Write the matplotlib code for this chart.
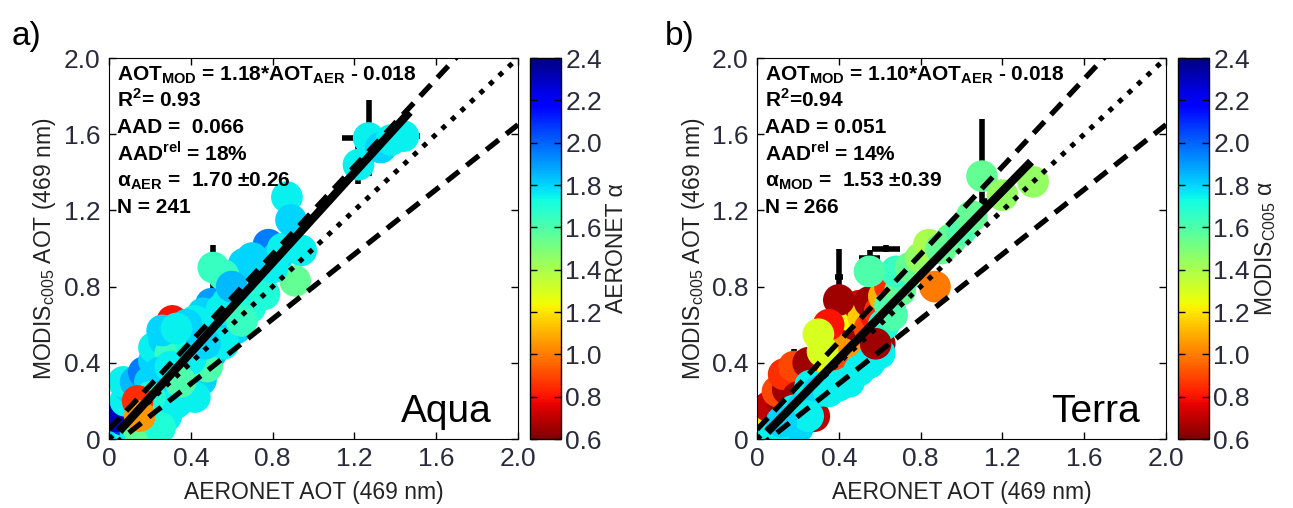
import numpy as np
import matplotlib.pyplot as plt
from matplotlib import cm, colors

plt.rcParams['font.family'] = ['Liberation Sans', 'DejaVu Sans']
plt.rcParams['mathtext.fontset'] = 'custom'
plt.rcParams['mathtext.rm'] = 'Liberation Sans'
plt.rcParams['mathtext.bf'] = 'Liberation Sans:bold'

# ---- Aqua (panel a): AERONET AOT, MODIS AOT, AERONET alpha
aqua_x = [0.03, 0.05, 0.06, 0.08, 0.04, 0.10, 0.07, 0.12, 0.13, 0.09, 0.03, 0.16, 0.18, 0.20,
          0.16, 0.11, 0.08, 0.10, 0.07, 0.13, 0.17, 0.20, 0.22, 0.25, 0.28, 0.26,
          0.31, 0.33, 0.37, 0.40, 0.45, 0.42, 0.31, 0.22, 0.22, 0.27, 0.30, 0.34, 0.36, 0.35,
          0.40, 0.44, 0.50, 0.48, 0.52, 0.55, 0.50, 0.46, 0.42, 0.38, 0.58, 0.63, 0.60, 0.66,
          0.69, 0.72, 0.68, 0.66, 0.56, 0.51, 0.62, 0.56, 0.75, 0.78, 0.82, 0.85, 0.94, 0.91,
          0.87, 0.89, 0.76, 0.80, 0.25, 0.30, 0.20, 0.40, 0.47, 0.55, 0.60, 0.70, 0.35, 0.15,
          0.25, 0.65, 0.26, 0.33, 1.22, 1.27, 1.33, 1.38, 1.44, 0.14, 0.15]
aqua_y = [0.02, 0.03, 0.06, 0.04, 0.08, 0.05, 0.10, 0.08, 0.03, 0.14, 0.12, 0.06, 0.10, 0.05,
          0.16, 0.22, 0.20, 0.27, 0.30, 0.30, 0.35, 0.30, 0.20, 0.14, 0.12, 0.25,
          0.27, 0.19, 0.25, 0.30, 0.31, 0.22, 0.62, 0.41, 0.48, 0.52, 0.45, 0.36, 0.54, 0.46,
          0.50, 0.56, 0.45, 0.38, 0.52, 0.60, 0.71, 0.66, 0.62, 0.60, 0.72, 0.78, 0.66, 0.72,
          0.69, 0.80, 0.85, 0.92, 0.86, 0.90, 0.58, 0.50, 0.86, 1.02, 0.95, 1.00, 0.99, 0.83,
          1.27, 1.15, 0.76, 0.90, 0.35, 0.38, 0.22, 0.42, 0.50, 0.68, 0.80, 0.95, 0.30, 0.04,
          0.06, 0.62, 0.57, 0.58, 1.44, 1.58, 1.53, 1.57, 1.59, 0.20, 0.12]
aqua_a = [1.70, 1.60, 1.75, 1.55, 1.80, 1.70, 2.10, 1.60, 1.75, 1.80, 2.30, 1.80, 1.70, 1.75,
          0.95, 0.90, 1.75, 1.80, 1.75, 1.85, 1.95, 1.80, 1.75, 1.70, 1.75, 1.45,
          1.80, 1.75, 1.75, 1.70, 1.80, 1.75, 0.80, 1.80, 1.75, 1.80, 1.65, 1.60, 1.80, 1.65,
          1.70, 1.85, 1.85, 1.60, 1.75, 1.70, 1.90, 1.80, 1.75, 1.80, 1.75, 1.80, 1.70, 1.75,
          1.70, 1.75, 1.65, 1.80, 1.65, 1.65, 1.80, 1.75, 1.80, 1.95, 1.80, 1.75, 1.75, 1.55,
          1.75, 1.80, 1.70, 1.75, 1.80, 1.75, 1.70, 1.75, 1.80, 1.75, 1.85, 1.80, 1.60, 1.55,
          1.70, 1.65, 1.80, 1.75, 1.75, 1.75, 1.80, 1.75, 1.75, 0.85, 1.05]
# error bars (centre x, centre y, x half-width, y half-width)
aqua_ex = [1.27, 1.22, 1.44, 0.51, 0.36, 0.30, 0.45, 0.78, 0.66, 0.42, 0.89]
aqua_ey = [1.58, 1.44, 1.59, 0.90, 0.54, 0.60, 0.31, 1.02, 0.92, 0.62, 1.15]
aqua_exerr = [0.13, 0.06, 0.08, 0.04, 0.03, 0.03, 0.06, 0.03, 0.03, 0.03, 0.02]
aqua_eyerr = [0.20, 0.10, 0.04, 0.12, 0.10, 0.06, 0.13, 0.06, 0.05, 0.05, 0.04]

# ---- Terra (panel b): AERONET AOT, MODIS AOT, MODIS alpha
terra_x = [0.03, 0.05, 0.08, 0.04, 0.10, 0.12, 0.07, 0.09, 0.06, 0.14, 0.17, 0.20, 0.12, 0.10,
           0.15, 0.13, 0.18, 0.20, 0.25, 0.30, 0.25, 0.34, 0.28, 0.36, 0.38, 0.42, 0.35, 0.40,
           0.45, 0.48, 0.45, 0.50, 0.52, 0.55, 0.58, 0.55, 0.60, 0.60, 0.62, 0.65, 0.40, 0.35,
           0.30, 0.32, 0.65, 0.70, 0.72, 0.68, 0.78, 0.62, 0.66, 0.55, 0.75, 0.80, 0.84, 0.90,
           0.87, 0.95, 1.00, 1.05, 1.10, 1.20, 1.35, 0.18, 0.22, 0.26, 0.30, 0.35, 0.40, 0.45,
           0.50, 0.55, 0.60, 0.15, 0.20, 0.25, 0.08, 0.12, 0.58]
terra_y = [0.02, 0.05, 0.03, 0.09, 0.07, 0.04, 0.12, 0.15, 0.17, 0.10, 0.06, 0.10, 0.20, 0.25,
           0.26, 0.34, 0.38, 0.22, 0.40, 0.42, 0.20, 0.38, 0.12, 0.32, 0.44, 0.42, 0.52, 0.55,
           0.50, 0.60, 0.65, 0.70, 0.64, 0.58, 0.65, 0.72, 0.67, 0.50, 0.75, 0.80, 0.73, 0.60,
           0.55, 0.46, 0.70, 0.78, 0.85, 0.88, 0.92, 0.60, 0.65, 0.88, 0.90, 0.95, 1.02, 1.00,
           0.80, 1.05, 1.10, 1.17, 1.38, 1.28, 1.35, 0.15, 0.16, 0.28, 0.25, 0.25, 0.28, 0.30,
           0.36, 0.40, 0.45, 0.05, 0.06, 0.12, 0.02, 0.09, 0.50]
terra_a = [1.75, 1.80, 1.70, 1.75, 1.80, 1.75, 1.20, 0.90, 0.70, 1.75, 1.80, 1.75, 0.65, 0.90,
           0.65, 0.85, 0.90, 0.65, 0.65, 0.65, 1.75, 0.70, 0.70, 1.25, 0.65, 0.90, 1.15, 1.30,
           1.05, 0.65, 1.25, 0.75, 1.15, 0.90, 0.80, 0.65, 0.85, 0.65, 1.10, 0.85, 0.65, 0.80,
           1.30, 1.30, 1.60, 1.55, 1.60, 1.65, 1.60, 1.70, 1.60, 1.60, 1.55, 1.45, 1.40, 1.55,
           1.00, 1.55, 1.60, 1.55, 1.55, 1.45, 1.45, 1.75, 1.80, 1.75, 1.80, 1.75, 1.75, 1.75,
           1.75, 1.75, 1.75, 1.75, 1.80, 1.75, 1.75, 1.80, 0.65]
terra_ex = [1.10, 0.40, 0.63, 1.15, 0.18, 0.55, 0.72, 1.35]
terra_ey = [1.40, 0.85, 1.00, 1.25, 0.42, 0.95, 0.90, 1.30]
terra_exerr = [0.06, 0.02, 0.07, 0.06, 0.03, 0.05, 0.04, 0.04]
terra_eyerr = [0.28, 0.15, 0.02, 0.03, 0.05, 0.04, 0.03, 0.03]

panels = [
    dict(x=aqua_x, y=aqua_y, a=aqua_a, ex=aqua_ex, ey=aqua_ey, exerr=aqua_exerr, eyerr=aqua_eyerr,
         slope=1.18, icpt=-0.018, xend=1.47, name='Aqua', tag='a)',
         stats=[r'AOT$_{\mathbf{MOD}}$ = 1.18*AOT$_{\mathbf{AER}}$ - 0.018', r'R$^{\mathbf{2}}$= 0.93',
                'AAD =  0.066', r'AAD$^{\mathbf{rel}}$ = 18%', r'α$_{\mathbf{AER}}$ =  1.70 ±0.26', 'N = 241'],
         cblabel='AERONET α'),
    dict(x=terra_x, y=terra_y, a=terra_a, ex=terra_ex, ey=terra_ey, exerr=terra_exerr, eyerr=terra_eyerr,
         slope=1.10, icpt=-0.018, xend=1.34, name='Terra', tag='b)',
         stats=[r'AOT$_{\mathbf{MOD}}$ = 1.10*AOT$_{\mathbf{AER}}$ - 0.018', r'R$^{\mathbf{2}}$=0.94',
                'AAD = 0.051', r'AAD$^{\mathbf{rel}}$ = 14%', r'α$_{\mathbf{MOD}}$ =  1.53 ±0.39', 'N = 266'],
         cblabel=r'MODIS$_{\mathrm{C005}}$ α'),
]

fig = plt.figure(figsize=(12.93, 5.08), dpi=100)
norm = colors.Normalize(vmin=0.6, vmax=2.4)
cmap = plt.get_cmap('jet_r')
tickcol = '#2a2a3a'

lefts = [0.0843, 0.5855]
cblefts = [0.4099, 0.9111]
tagx = [-0.238, -0.225]
for p, L, CL, TX in zip(panels, lefts, cblefts, tagx):
    ax = fig.add_axes([L, 0.1358, 0.3163, 0.75])
    cax = fig.add_axes([CL, 0.1358, 0.024, 0.75])

    ax.errorbar(p['ex'], p['ey'], xerr=p['exerr'], yerr=p['eyerr'], fmt='none',
                ecolor='black', elinewidth=4, capsize=0, zorder=1)
    ax.scatter(p['x'], p['y'], c=p['a'], cmap=cmap, norm=norm, s=520,
               edgecolors='none', zorder=2)

    xx = np.array([0, 2])
    ax.plot(xx, xx, color='black', lw=3.6, dashes=(1, 1.6), zorder=3)
    ax.plot(xx, 1.15 * xx + 0.05, color='black', lw=3.8, dashes=(3, 1.8), zorder=3)
    ax.plot(xx, 0.85 * xx - 0.05, color='black', lw=3.8, dashes=(3, 1.8), zorder=3)
    xr = np.array([0.05, p['xend']])
    ax.plot(xr, p['slope'] * xr + p['icpt'], color='black', lw=6, solid_capstyle='butt', zorder=4)

    ax.set_xlim(0, 2)
    ax.set_ylim(0, 2)
    ticks = [0, 0.4, 0.8, 1.2, 1.6, 2.0]
    labs = ['0', '0.4', '0.8', '1.2', '1.6', '2.0']
    ax.set_xticks(ticks, labs)
    ax.set_yticks(ticks, labs)
    ax.tick_params(direction='in', top=True, right=True, length=5, width=1,
                   labelsize=19, labelcolor=tickcol, pad=6)
    ax.set_xlabel('AERONET AOT (469 nm)', fontsize=16.5, color='#222222', labelpad=7)
    ax.set_ylabel(r'MODIS$_{\mathrm{c005}}$ AOT (469 nm)', fontsize=16.5, color='#222222', labelpad=4)

    for i, s in enumerate(p['stats']):
        ax.text(0.02, 0.942 - i * 0.070, s, transform=ax.transAxes, fontsize=15,
                fontweight='bold', va='baseline', ha='left', zorder=5)
    ax.text(0.935, 0.045, p['name'], transform=ax.transAxes, fontsize=28,
            ha='right', va='baseline', zorder=5)
    ax.text(TX, 1.015, p['tag'], transform=ax.transAxes, fontsize=24, ha='left', va='bottom')

    cb = fig.colorbar(cm.ScalarMappable(norm=norm, cmap=cmap), cax=cax)
    cb.set_ticks([0.6, 0.8, 1.0, 1.2, 1.4, 1.6, 1.8, 2.0, 2.2, 2.4])
    cb.ax.set_yticklabels(['0.6', '0.8', '1.0', '1.2', '1.4', '1.6', '1.8', '2.0', '2.2', '2.4'])
    cax.yaxis.set_ticks_position('both')
    cax.tick_params(direction='in', length=5, width=1, labelsize=19, labelcolor=tickcol,
                    labelleft=False, labelright=True, pad=3)
    cb.outline.set_linewidth(1)
    cb.set_label(p['cblabel'], fontsize=16.5, color='#222222', labelpad=2)

fig.savefig('out.png', dpi=100)
